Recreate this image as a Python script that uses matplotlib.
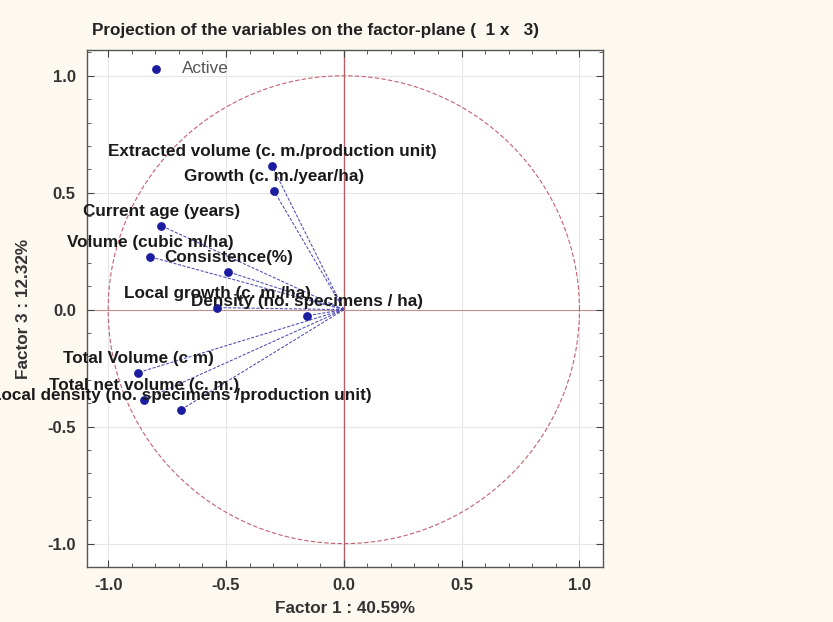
import numpy as np
import matplotlib
matplotlib.use("Agg")
import matplotlib.pyplot as plt
from matplotlib.ticker import MultipleLocator, FuncFormatter

# ---- data ----
variables = [
    "Extracted volume (c. m./production unit)",
    "Growth (c. m./year/ha)",
    "Current age (years)",
    "Volume (cubic m/ha)",
    "Consistence(%)",
    "Local growth (c. m./ha)",
    "Density (no. specimens / ha)",
    "Total Volume (c m)",
    "Total net volume (c. m.)",
    "Local density (no. specimens /production unit)",
]
factor1 = [-0.305, -0.297, -0.775, -0.822, -0.490, -0.538, -0.157, -0.873, -0.847, -0.690]
factor3 = [0.615, 0.509, 0.359, 0.226, 0.162, 0.009, -0.026, -0.269, -0.385, -0.427]
title = "Projection of the variables on the factor-plane (  1 x   3)"
xlabel = "Factor 1 : 40.59%"
ylabel = "Factor 3 : 12.32%"

plt.rcParams['font.family'] = ['Liberation Sans', 'DejaVu Sans']

fig = plt.figure(figsize=(8.33, 6.22), dpi=100, facecolor='#fdf9f1')
ax = fig.add_axes([0.1044, 0.0884, 0.6195, 0.8312])
ax.set_facecolor('white')

ax.set_xlim(-1.09, 1.10)
ax.set_ylim(-1.10, 1.11)

# grid
for v in [-1.0, -0.5, 0.5, 1.0]:
    ax.axvline(v, color='#e6e6e6', lw=0.8, zorder=0)
    ax.axhline(v, color='#e6e6e6', lw=0.8, zorder=0)
ax.axvline(0, color='#b06060', lw=1.0, zorder=1)
ax.axhline(0, color='#c09090', lw=0.8, zorder=1)

# unit circle
t = np.linspace(0, 2 * np.pi, 400)
ax.plot(np.cos(t), np.sin(t), color='#c8606e', lw=0.8, ls=(0, (4, 2)), zorder=2)

# vectors
for x, y in zip(factor1, factor3):
    ax.plot([0, x], [0, y], color='#4a4ab8', lw=0.75, ls=(0, (3, 1.5)), zorder=3)

ax.scatter(factor1, factor3, s=28, color='#1c1ca0', zorder=4, label='Active')

for name, x, y in zip(variables, factor1, factor3):
    ax.annotate(name, (x, y), xytext=(0, 10), textcoords='offset points',
                ha='center', va='center', fontsize=12.3, fontweight='bold',
                color='#1a1a1a', zorder=5, annotation_clip=False)

ax.xaxis.set_major_locator(MultipleLocator(0.5))
ax.yaxis.set_major_locator(MultipleLocator(0.5))
ax.xaxis.set_minor_locator(MultipleLocator(0.1))
ax.yaxis.set_minor_locator(MultipleLocator(0.1))
ax.tick_params(which='both', direction='in', top=True, right=True, color='#444444')
ax.tick_params(which='major', length=5, width=0.8, labelsize=12, pad=8)
ax.tick_params(which='minor', length=3, width=0.6)
fmt = FuncFormatter(lambda v, p: f"{v:.1f}".replace('-0.0', '0.0'))
ax.xaxis.set_major_formatter(fmt)
ax.yaxis.set_major_formatter(fmt)
for lab in ax.get_xticklabels() + ax.get_yticklabels():
    lab.set_fontweight('bold')
    lab.set_color('#333333')
for s in ax.spines.values():
    s.set_color('#555555')
    s.set_linewidth(1.0)

ax.set_xlabel(xlabel, fontsize=12.3, fontweight='bold', color='#333333', labelpad=6)
ax.set_ylabel(ylabel, fontsize=12.3, fontweight='bold', color='#333333', labelpad=12)
ax.set_title(title, fontsize=12.3, fontweight='bold', color='#222222', loc='left',
             x=0.01, pad=11)

leg = ax.legend(loc='upper left', bbox_to_anchor=(0.08, 1.0), frameon=False,
                fontsize=12.3, handletextpad=0.5, borderaxespad=0.25)
for txt in leg.get_texts():
    txt.set_color('#555555')

fig.savefig('out.png', dpi=100, facecolor=fig.get_facecolor())
